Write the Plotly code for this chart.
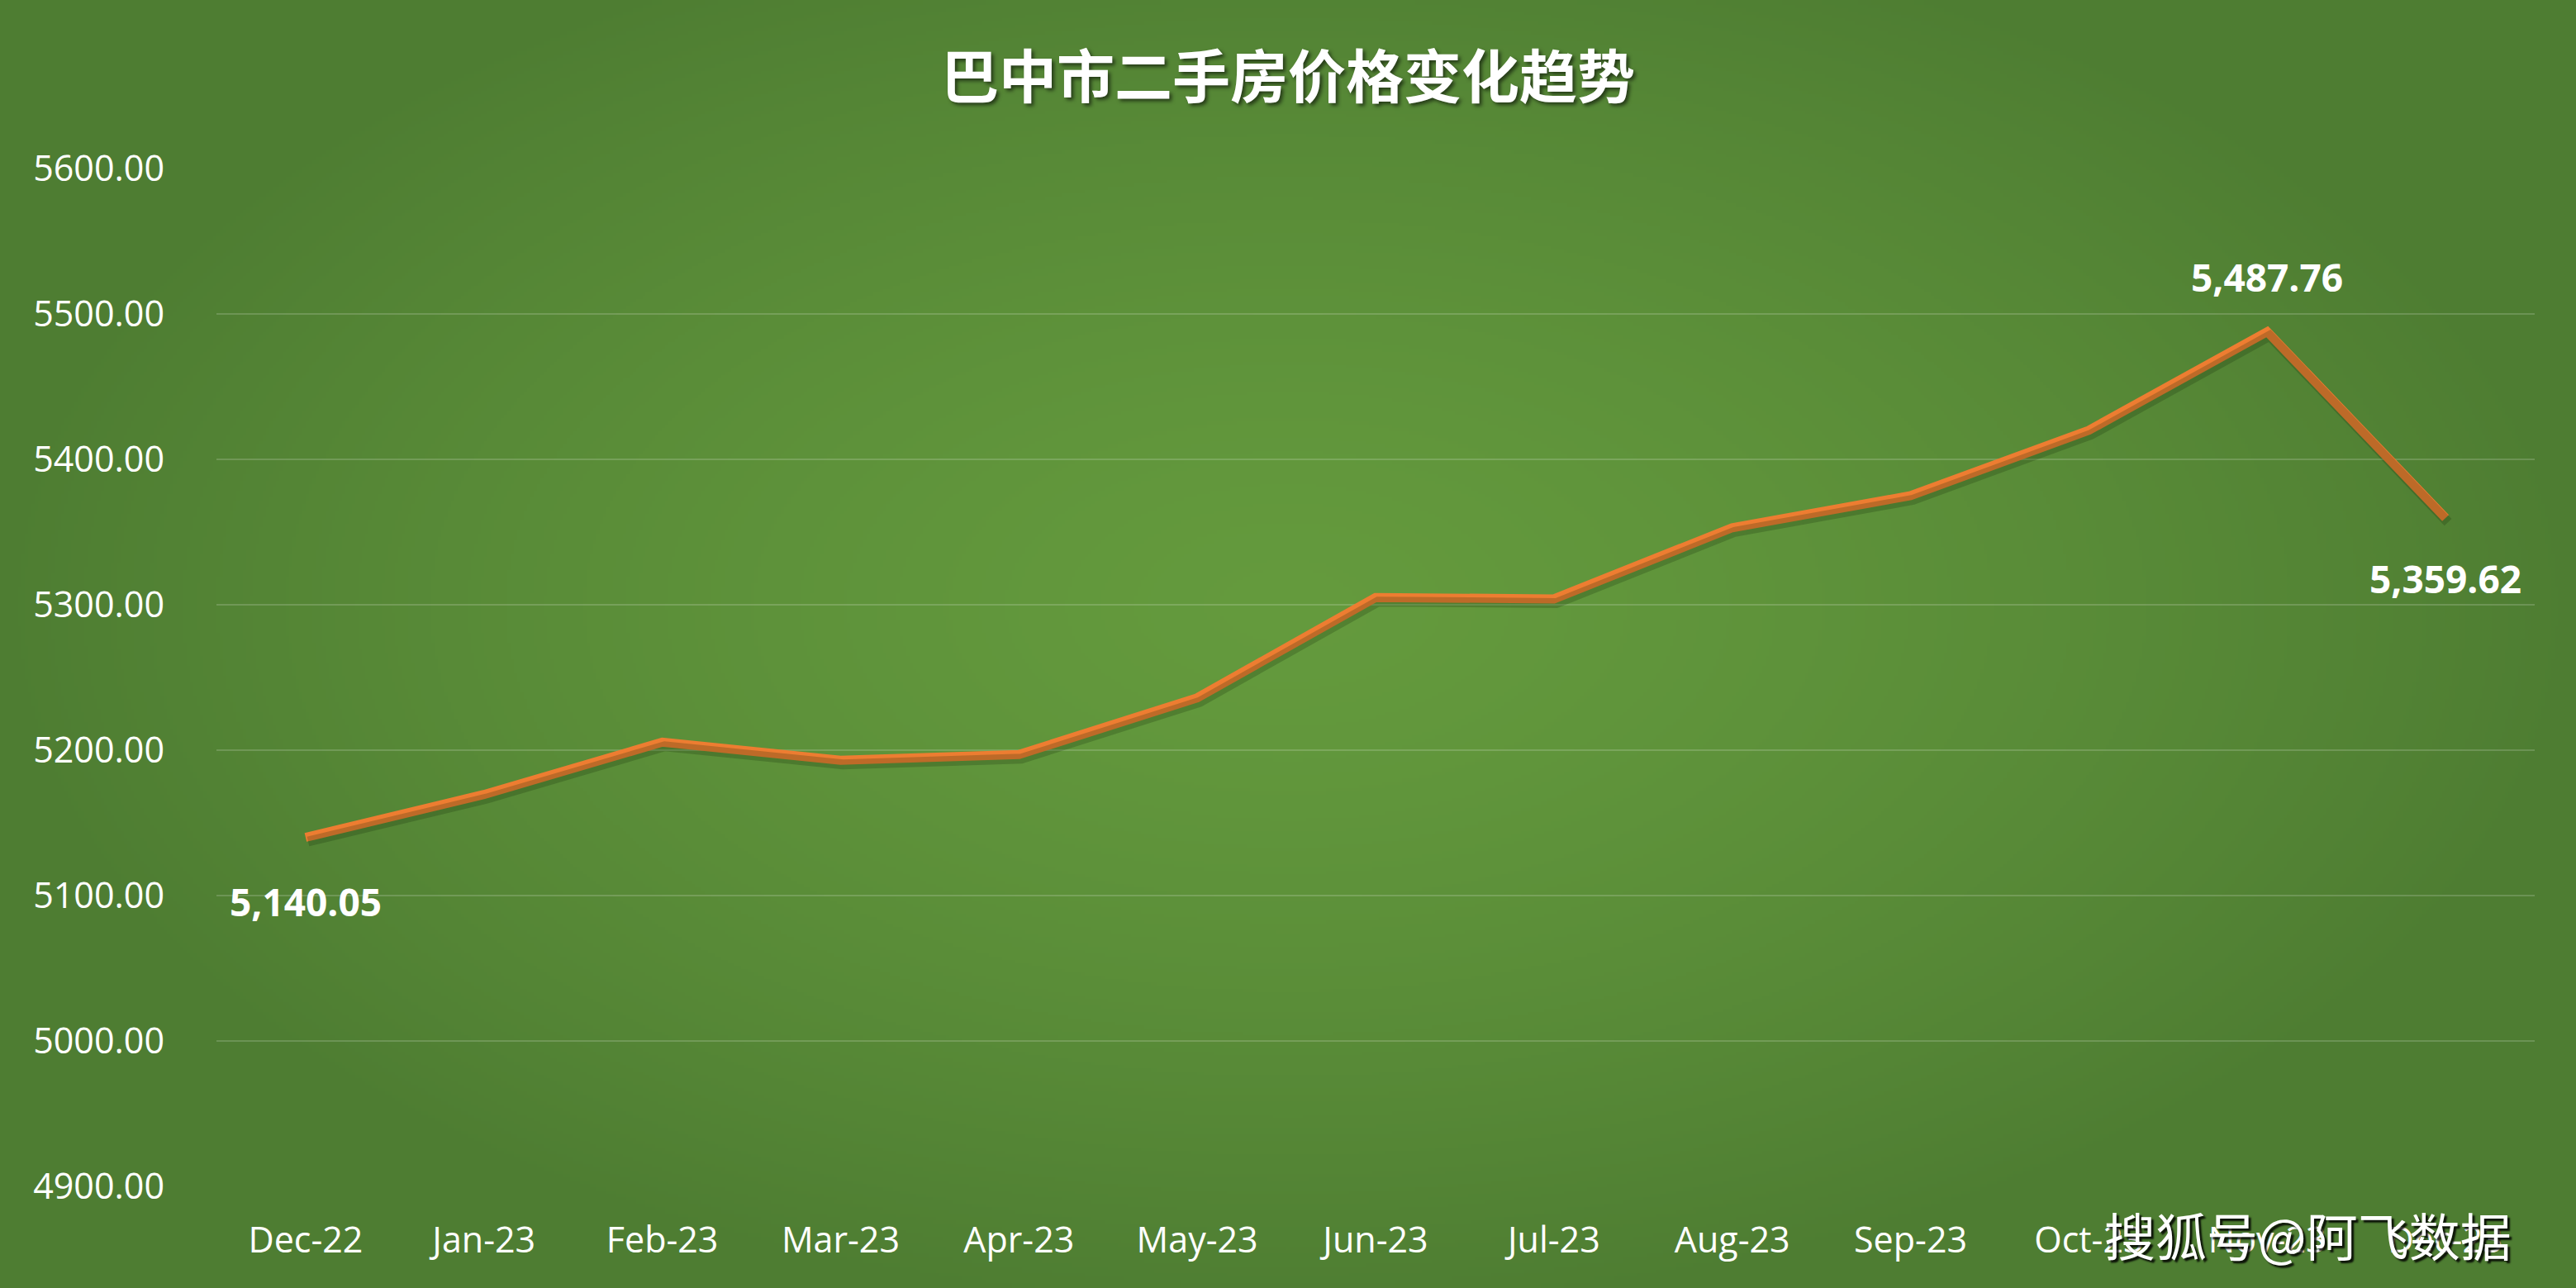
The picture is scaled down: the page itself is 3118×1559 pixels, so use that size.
import base64, struct, zlib
import numpy as np
import plotly.graph_objects as go

# ---------------- data ----------------
months = ["Dec-22", "Jan-23", "Feb-23", "Mar-23", "Apr-23", "May-23", "Jun-23",
          "Jul-23", "Aug-23", "Sep-23", "Oct-23", "Nov-23", "Dec-23"]
prices = [5140.05, 5169.5, 5205.5, 5193.0, 5197.0, 5236.0, 5305.0,
          5304.0, 5353.0, 5375.0, 5420.0, 5487.76, 5359.62]
label_idx = [0, 11, 12]
label_shift = [-77, 67, -73]
y_ticks = [4900, 5000, 5100, 5200, 5300, 5400, 5500, 5600]
title_text = "巴中市二手房价格变化趋势"
watermark = "搜狐号@阿飞数据"

# ---------------- geometry ----------------
W, H = 3118, 1559
ML, MR, MT, MB = 262, 50, 204, 123
PW, PH = W - ML - MR, H - MT - MB
YMIN, YMAX = 4900, 5600


# ---------------- background radial gradient (PNG) ----------------
def make_png(arr):
    h, w, _ = arr.shape
    raw = b"".join(b"\x00" + arr[r].tobytes() for r in range(h))

    def chunk(tag, data):
        c = struct.pack(">I", len(data)) + tag + data
        return c + struct.pack(">I", zlib.crc32(tag + data) & 0xffffffff)

    png = b"\x89PNG\r\n\x1a\n"
    png += chunk(b"IHDR", struct.pack(">IIBBBBB", w, h, 8, 2, 0, 0, 0))
    png += chunk(b"IDAT", zlib.compress(raw, 9))
    png += chunk(b"IEND", b"")
    return "data:image/png;base64," + base64.b64encode(png).decode()


gw, gh = 780, 390
yy, xx = np.mgrid[0:gh, 0:gw]
dx = (xx / (gw - 1) - 0.5) / 0.5
dy = (yy / (gh - 1) - 0.47) / 0.55
d = np.clip(np.sqrt(dx ** 2 + dy ** 2), 0, 1) ** 1.4
center = np.array([100, 154, 61], dtype=float)
edge = np.array([78, 125, 50], dtype=float)
img = center[None, None, :] + (edge - center)[None, None, :] * d[..., None]
img = np.clip(np.round(img), 0, 255).astype(np.uint8)
bg_src = make_png(img)

# ---------------- figure ----------------
fig = go.Figure()

# soft shadow of the line (same data drawn on slightly offset axes)
sx = 3 / (PW / len(months))
sy = 5 * (YMAX - YMIN) / PH
fig.add_trace(go.Scatter(
    x=months, y=prices, mode="lines", xaxis="x2", yaxis="y2",
    line=dict(color="rgba(20,40,10,0.22)", width=12), hoverinfo="skip", showlegend=False))

fig.add_trace(go.Scatter(
    x=months, y=prices, mode="lines",
    line=dict(color="#ED7D31", width=11), showlegend=False))

annotations = []
for i, s in zip(label_idx, label_shift):
    annotations.append(dict(
        x=months[i], y=prices[i], xref="x", yref="y", text=f"{prices[i]:,.2f}",
        showarrow=False, yshift=s,
        font=dict(family="Open Sans", size=46, color="white", weight="bold")))

annotations.append(dict(
    x=(2793 - ML) / PW, y=-(1494 - MT - PH) / PH, xref="paper", yref="paper",
    text=watermark, showarrow=False, xanchor="center", yanchor="middle",
    font=dict(family="Noto Sans CJK SC", size=62, color="white",
              shadow="3px 3px 2px rgba(0,0,0,0.85)")))

fig.update_layout(
    width=W, height=H,
    margin=dict(l=ML, r=MR, t=MT, b=MB),
    paper_bgcolor="#588a38",
    plot_bgcolor="rgba(0,0,0,0)",
    title=dict(text=title_text, x=0.5, xanchor="center", y=1 - 94 / H, yanchor="middle",
               xref="container",
               font=dict(family="Noto Sans CJK SC", size=70, color="white", weight="bold",
                         shadow="3px 3px 4px rgba(0,0,0,0.55)")),
    images=[dict(source=bg_src, xref="paper", yref="paper",
                 x=-ML / PW, y=1 + MT / PH, sizex=W / PW, sizey=H / PH,
                 sizing="stretch", layer="below", xanchor="left", yanchor="top")],
    xaxis=dict(type="category", range=[-0.5, len(months) - 0.5], showgrid=False,
               showline=False, zeroline=False, ticks="",
               tickfont=dict(family="Open Sans", size=43, color="white"),
               ticklabelstandoff=36),
    yaxis=dict(range=[YMIN, YMAX], tickvals=y_ticks, tickformat=".2f",
               showgrid=True, gridcolor="rgba(255,255,255,0.17)", gridwidth=2,
               zeroline=False, showline=False, ticks="",
               tickfont=dict(family="Open Sans", size=43, color="white"),
               ticklabelstandoff=62),
    xaxis2=dict(type="category", range=[-0.5 - sx, len(months) - 0.5 - sx],
                overlaying="x", visible=False),
    yaxis2=dict(range=[YMIN + sy, YMAX + sy], overlaying="y", visible=False),
    annotations=annotations,
    showlegend=False,
)

fig.write_html("out.html",
               config={"displayModeBar": False},
               post_script="document.body.style.margin='0';"
                           "document.body.style.padding='0';"
                           "document.body.style.background='#4e7d32';")
